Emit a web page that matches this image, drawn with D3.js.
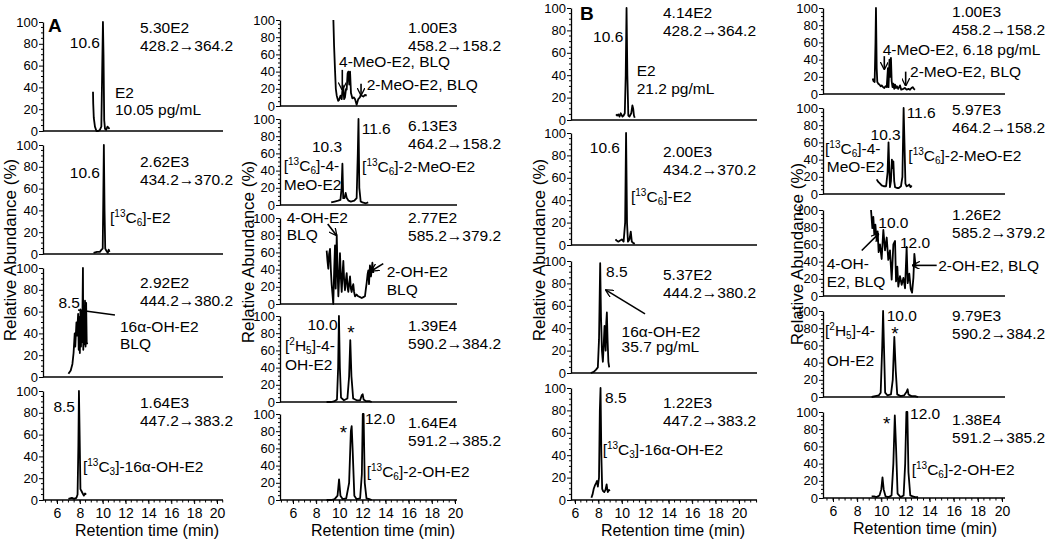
<!DOCTYPE html>
<html lang="en">
<head>
<meta charset="UTF-8">
<title>SRM chromatograms of estrogens</title>
<script src="https://d3js.org/d3.v7.min.js"></script>
<style>
  body { margin: 0; background: #fff; }
  svg text { font-family: "Liberation Sans", Arial, sans-serif; fill: #000; }
</style>
</head>
<body>
<svg width="1050" height="539"></svg>
<script>
// ---- data: [retention time (min), relative abundance (%)] ----
const a1 = [[9.15,36],[9.17,25],[9.22,12],[9.32,4],[9.45,0],[9.6,0],[9.75,1],[9.88,4],[9.96,60],[10.02,100],[10.07,70],[10.13,10],[10.2,2],[10.3,1],[10.42,4],[10.5,3],[10.6,2]];
const a2 = [[9.2,1],[9.5,2],[9.75,2],[9.9,4],[10.0,5],[10.05,50],[10.1,100],[10.16,40],[10.22,5],[10.32,3],[10.45,1],[10.52,4],[10.6,2]];
const a3 = [[7.0,3],[7.2,6],[7.35,12],[7.45,22],[7.55,40],[7.6,28],[7.7,50],[7.75,38],[7.85,58],[7.9,25],[7.95,55],[8.0,22],[8.05,62],[8.1,28],[8.15,60],[8.2,32],[8.27,100],[8.3,25],[8.35,65],[8.4,30],[8.45,70],[8.5,28],[8.55,68],[8.6,32],[8.65,30]];
const a4 = [[7.0,1],[7.3,2],[7.5,1],[7.7,2],[7.8,5],[7.87,50],[7.92,100],[7.98,60],[8.05,10],[8.15,8],[8.25,6],[8.35,4],[8.45,6],[8.55,5]];
const a5 = [[9.49,100],[9.55,70],[9.63,42],[9.7,20],[9.78,12],[9.9,6],[9.98,7],[10.1,12],[10.21,8],[10.3,24],[10.35,21],[10.42,8],[10.49,10],[10.58,20],[10.64,19],[10.72,38],[10.78,40],[10.86,25],[10.93,40],[11.01,15],[11.13,9],[11.25,10],[11.36,8],[11.5,1.5],[11.64,8],[11.78,10],[11.86,13],[11.94,12],[12.08,11],[12.22,13],[12.37,12]];
const a6 = [[9.3,3],[9.6,4],[9.9,5],[10.1,6],[10.2,20],[10.27,48],[10.34,8],[10.45,8],[10.55,14],[10.65,8],[10.8,5],[11.0,4],[11.3,5],[11.5,8],[11.6,60],[11.66,100],[11.73,20],[11.85,4],[12.0,3],[12.3,2],[12.5,3]];
const a7 = [[8.91,62],[8.98,50],[9.05,41],[9.12,58],[9.2,64],[9.27,40],[9.34,23],[9.41,12],[9.48,0],[9.56,40],[9.63,68],[9.69,18],[9.74,50],[9.78,80],[9.85,40],[9.92,9],[10.0,35],[10.06,59],[10.14,30],[10.21,14],[10.28,35],[10.35,50],[10.42,28],[10.49,16],[10.57,28],[10.64,36],[10.71,20],[10.78,14],[10.86,25],[10.93,32],[11.0,18],[11.07,14],[11.14,20],[11.21,23],[11.28,14],[11.36,9],[11.5,11],[11.64,9],[11.8,8],[11.94,7],[12.08,8],[12.22,9],[12.3,18],[12.37,25],[12.45,35],[12.51,39],[12.57,23],[12.65,45],[12.74,32],[12.8,40],[12.86,48],[12.94,36]];
const a8 = [[8.9,0],[9.3,0],[9.6,1],[9.8,3],[9.9,40],[9.97,100],[10.05,40],[10.15,5],[10.4,2],[10.7,4],[10.85,30],[10.95,72],[11.05,30],[11.2,4],[11.5,2],[11.8,2],[11.95,8],[12.02,9],[12.1,3],[12.3,1],[12.6,1],[12.8,0]];
const a9 = [[8.9,0],[9.3,0],[9.6,1],[9.85,5],[9.98,24],[10.1,5],[10.3,1],[10.6,2],[10.85,20],[11.0,80],[11.07,86],[11.15,60],[11.3,5],[11.5,1],[11.8,2],[11.95,30],[12.03,100],[12.1,100],[12.2,20],[12.35,2],[12.6,1],[12.8,0]];
const b1 = [[9.5,5],[9.6,4],[9.7,5],[9.8,3],[9.9,6],[10.05,3],[10.15,4],[10.25,6],[10.33,40],[10.4,100],[10.47,40],[10.55,4],[10.65,3],[10.8,6],[10.9,13],[10.97,10],[11.03,4],[11.1,2]];
const b2 = [[9.45,5],[9.55,4],[9.7,3],[9.85,4],[10.0,5],[10.15,3],[10.28,20],[10.36,100],[10.44,20],[10.52,3],[10.65,5],[10.76,12],[10.85,3],[10.95,2],[11.1,1]];
const b3 = [[7.35,0],[7.6,1],[7.8,3],[7.95,5],[8.05,30],[8.15,98],[8.22,50],[8.3,20],[8.38,10],[8.45,25],[8.52,42],[8.57,30],[8.62,20],[8.67,45],[8.72,54],[8.78,30],[8.85,10],[8.92,5]];
const b4 = [[7.4,2],[7.5,5],[7.6,10],[7.7,13],[7.8,15],[7.88,17],[7.95,12],[8.05,20],[8.12,80],[8.18,100],[8.25,40],[8.32,10],[8.4,8],[8.5,7],[8.6,9],[8.7,14],[8.75,10],[8.8,7],[8.9,9],[8.97,8]];
const b5 = [[9.29,18],[9.35,15],[9.45,14],[9.52,60],[9.56,100],[9.62,30],[9.67,14],[9.75,12],[9.84,11],[9.95,9],[10.03,10],[10.15,8],[10.25,7],[10.35,9],[10.45,8],[10.55,30],[10.6,8],[10.68,40],[10.75,20],[10.8,42],[10.86,15],[10.93,8],[11.0,12],[11.07,6],[11.14,11],[11.22,7],[11.3,9],[11.4,6],[11.55,10],[11.65,5],[11.83,6],[11.95,7],[12.1,5],[12.25,6],[12.38,5],[12.5,7],[12.6,8],[12.7,6],[12.79,5]];
const b6 = [[9.62,17],[9.75,14],[9.9,12],[10.03,10],[10.2,9],[10.4,9],[10.52,25],[10.6,60],[10.66,30],[10.72,8],[10.8,15],[10.88,40],[10.95,30],[11.0,38],[11.07,15],[11.14,8],[11.3,7],[11.45,7],[11.63,9],[11.75,20],[11.85,100],[11.92,60],[12.0,12],[12.1,9],[12.25,10],[12.32,11],[12.42,8],[12.52,10]];
const b7 = [[9.15,100],[9.26,79],[9.34,92],[9.42,72],[9.51,83],[9.62,64],[9.7,75],[9.78,51],[9.89,60],[10.03,43],[10.17,77],[10.31,53],[10.45,68],[10.58,42],[10.72,53],[10.86,19],[11.0,60],[11.14,64],[11.22,17],[11.33,34],[11.41,11],[11.55,23],[11.69,13],[11.83,21],[11.97,9],[12.1,57],[12.19,15],[12.32,26],[12.44,8],[12.55,4],[12.66,21],[12.74,49],[12.85,34]];
const b8 = [[9.2,0],[9.5,1],[9.8,2],[9.95,5],[10.08,60],[10.15,100],[10.22,60],[10.32,5],[10.5,2],[10.8,3],[10.95,20],[11.08,70],[11.2,30],[11.32,3],[11.6,1],[11.9,2],[12.1,6],[12.18,9],[12.25,3],[12.5,1],[12.8,1],[13.05,0]];
const b9 = [[9.2,2],[9.4,2],[9.6,1],[9.85,3],[10.0,10],[10.1,24],[10.2,10],[10.35,2],[10.6,1],[10.85,3],[11.0,40],[11.12,96],[11.22,60],[11.35,5],[11.6,1],[11.85,3],[11.98,40],[12.08,100],[12.16,100],[12.25,30],[12.4,3],[12.6,2],[12.8,1],[13.05,1]];

const traces = [a1, a2, a3, a4, a5, a6, a7, a8, a9, b1, b2, b3, b4, b5, b6, b7, b8, b9];
const intensities = ["5.30E2","2.62E3","2.92E2","1.64E3","1.00E3","6.13E3","2.77E2","1.39E4","1.64E4",
                     "4.14E2","2.00E3","5.37E2","1.22E3","1.00E3","5.97E3","1.26E2","9.79E3","1.38E4"];
const transitions = ["428.2→364.2","434.2→370.2","444.2→380.2","447.2→383.2","458.2→158.2","464.2→158.2","585.2→379.2","590.2→384.2","591.2→385.2",
                     "428.2→364.2","434.2→370.2","444.2→380.2","447.2→383.2","458.2→158.2","464.2→158.2","585.2→379.2","590.2→384.2","591.2→385.2"];
const xTicks = [6, 8, 10, 12, 14, 16, 18, 20];
const yTicks = [0, 20, 40, 60, 80, 100];
const xTitle = "Retention time (min)";
const yTitle = "Relative Abundance (%)";

// ---- layout ----
const cols = [
  {axisX: 43,  x6: 57,  x20: 217,  xEnd: 223,  tops: [22, 145, 268, 391],      h: 109, infoT: 13.26, titleX: 16,  titleCx: 147, titleCy: 250},
  {axisX: 280, x6: 293, x20: 455,  xEnd: 457,  tops: [20, 119, 218, 316, 414], h: 86,  infoT: 15.94, titleX: 254, titleCx: 383, titleCy: 252},
  {axisX: 571, x6: 575, x20: 739,  xEnd: 757,  tops: [8, 133, 261, 388],       h: 112, infoT: 13.51, titleX: 545, titleCx: 673, titleCy: 250},
  {axisX: 823, x6: 833, x20: 1002, xEnd: 1005, tops: [8, 108, 210, 311, 412],  h: 86,  infoT: 15.86, titleX: 803, titleCx: 925, titleCy: 254}
];
// panel -> column, row, baseline (in %) of the intensity label
const panels = [
  [0,0,90],[0,1,80],[0,2,82],[0,3,84],
  [1,0,85],[1,1,86],[1,2,94],[1,3,82],[1,4,84],
  [2,0,91],[2,1,79],[2,2,83],[2,3,82],
  [3,0,90],[3,1,92],[3,2,88],[3,3,88],[3,4,85]
];
// annotations per panel: [t, value, text, anchor, bold]
const notes = [
  [[5.21,91,"A","start",true],[9.76,76,"10.6","end"],[11.07,30,"E2"],[11.07,14.7,"10.05 pg/mL"]],
  [[9.76,69.7,"10.6","end"],[10.64,28.4,"[^13C_6]-E2"]],
  [[8.01,63.3,"8.5","end"],[11.51,41.3,"16α-OH-E2"],[11.51,25.7,"BLQ"]],
  [[7.57,80.7,"8.5","end"],[8.27,25.7,"[^13C_3]-16α-OH-E2"]],
  [[9.98,45,"4-MeO-E2, BLQ"],[12.37,18.5,"2-MeO-E2, BLQ"]],
  [[11.94,82,"11.6"],[10.25,62,"10.3","end"],[5.2,40,"[^13C_6]-4-"],[5.2,17,"MeO-E2"],[11.97,38,"[^13C_6]-2-MeO-E2"]],
  [[5.46,94,"4-OH-E2"],[5.46,75,"BLQ"],[14.1,31,"2-OH-E2"],[14.1,11,"BLQ"]],
  [[9.85,84,"10.0","end"],[11.01,72.7,"*","middle"],[5.31,59.7,"[^2H_5]-4-"],[5.31,37,"OH-E2"]],
  [[10.35,70.5,"*","middle"],[12.22,88,"12.0"],[12.37,27,"[^13C_6]-2-OH-E2"]],
  [[6.43,89,"B","start",true],[10.12,69.5,"10.6","end"],[11.27,39,"E2"],[11.27,23,"21.2 pg/mL"]],
  [[9.84,82,"10.6","end"],[10.78,38,"[^13C_6]-E2"]],
  [[8.65,86,"8.5"],[9.98,31.9,"16α-OH-E2"],[9.98,18.6,"35.7 pg/mL"]],
  [[8.56,86.7,"8.5"],[8.36,39.8,"[^13C_3]-16α-OH-E2"]],
  [[10.12,45.4,"4-MeO-E2, 6.18 pg/mL"],[12.38,20,"2-MeO-E2, BLQ"]],
  [[12.1,88.5,"11.6"],[10.36,63,"10.3","middle"],[5.34,46,"[^13C_6]-4-"],[5.48,25.3,"MeO-E2"],[12.24,38.5,"[^13C_6]-2-MeO-E2"]],
  [[9.75,79,"10.0"],[11.55,56,"12.0"],[5.48,31,"4-OH-"],[5.48,11,"E2, BLQ"],[14.72,29.3,"2-OH-E2, BLQ"]],
  [[10.45,88,"10.0"],[11.14,66,"*","middle"],[5.34,70.7,"[^2H_5]-4-"],[5.48,36.2,"OH-E2"]],
  [[10.45,78.5,"*","middle"],[12.38,92,"12.0"],[12.52,27,"[^13C_6]-2-OH-E2"]]
];
// arrows per panel: [t1, v1, t2, v2, head]
const arrows = [
  [], [], [[11.07,56.9,7.84,61.5,false]], [],
  [[10.26,42,10.26,19,true],[11.88,26,11.88,13,true]], [],
  [[9.0,93,9.75,80,true],[13.8,47,12.8,38.7,true]], [], [],
  [], [], [[11.98,52.8,8.65,74,true]], [],
  [[10.25,44,10.25,29,true],[12.02,26,12.02,10,true]], [],
  [[8.38,52.9,9.75,72,true],[14.59,35.6,12.6,35.6,true]], [], []
];

const svg = d3.select("svg");
svg.append("defs").append("marker")
  .attr("id", "head").attr("viewBox", "0 0 10 10").attr("refX", 9).attr("refY", 5)
  .attr("markerWidth", 8).attr("markerHeight", 8).attr("markerUnits", "userSpaceOnUse")
  .attr("orient", "auto")
  .append("path").attr("d", "M0,0L10,5L0,10").attr("fill", "none")
  .attr("stroke", "#000").attr("stroke-width", 1.6);

// "^13" -> superscript, "_6" -> subscript
function rich(sel, str) {
  const parts = str.split(/(\^\d+|_\d+)/);
  let off = 0;
  parts.forEach(p => {
    if (!p) return;
    let target = 0, txt = p, small = false;
    if (p[0] === "^") { target = -6; txt = p.slice(1); small = true; }
    else if (p[0] === "_") { target = 3; txt = p.slice(1); small = true; }
    const ts = sel.append("tspan").attr("dy", target - off).text(txt);
    if (small) ts.attr("font-size", "10px");
    off = target;
  });
}

panels.forEach((p, i) => {
  const c = cols[p[0]], row = p[1];
  const top = c.tops[row], bottom = top + c.h;
  const last = row === c.tops.length - 1;
  const x = d3.scaleLinear().domain([6, 20]).range([c.x6, c.x20]);
  const y = d3.scaleLinear().domain([0, 100]).range([bottom, top]);
  const g = svg.append("g");

  // y axis with minor ticks
  const ya = g.append("g").attr("transform", `translate(${c.axisX},0)`)
    .call(d3.axisLeft(y).tickValues(yTicks).tickSize(4).tickSizeOuter(0).tickPadding(1));
  ya.select(".domain").attr("stroke-width", 1.3);
  ya.selectAll("text").attr("font-size", "13px");
  ya.selectAll("line.minor").data(d3.range(0, 101, 5).filter(v => v % 20))
    .join("line").attr("class", "minor").attr("x1", -2).attr("x2", 0)
    .attr("y1", d => y(d)).attr("y2", d => y(d)).attr("stroke", "#000");

  // x baseline
  g.append("line").attr("x1", c.axisX).attr("x2", c.xEnd)
    .attr("y1", bottom).attr("y2", bottom).attr("stroke", "#000").attr("stroke-width", 1.5);

  if (last) {
    const xa = g.append("g").attr("transform", `translate(0,${bottom})`)
      .call(d3.axisBottom(x).tickValues(xTicks).tickSize(4).tickPadding(4));
    xa.select(".domain").remove();
    xa.selectAll("text").attr("font-size", "14px");
    const t0 = x.invert(c.axisX), t1 = x.invert(c.xEnd);
    g.selectAll("line.xminor").data(d3.range(Math.ceil(t0 * 2) / 2, t1, 0.5))
      .join("line").attr("class", "xminor").attr("x1", d => x(d)).attr("x2", d => x(d))
      .attr("y1", bottom).attr("y2", bottom + 2.5).attr("stroke", "#000");
    g.append("text").attr("x", c.titleCx).attr("y", bottom + 36)
      .attr("text-anchor", "middle").attr("font-size", "16px").text(xTitle);
  }

  // trace
  g.append("path").datum(traces[i])
    .attr("d", d3.line().x(d => x(d[0])).y(d => y(d[1])))
    .attr("fill", "none").attr("stroke", "#000").attr("stroke-width", 1.8)
    .attr("stroke-linejoin", "round");

  // intensity + transition
  g.append("text").attr("x", x(c.infoT)).attr("y", y(p[2]))
    .attr("font-size", "15.5px").text(intensities[i]);
  g.append("text").attr("x", x(c.infoT)).attr("y", y(p[2]) + 18)
    .attr("font-size", "15.5px").text(transitions[i]);

  notes[i].forEach(n => {
    const t = g.append("text").attr("x", x(n[0])).attr("y", y(n[1]))
      .attr("text-anchor", n[3] || "start")
      .attr("font-size", n[4] ? "19px" : (n[2] === "*" ? "19px" : "15.5px"))
      .attr("font-weight", n[4] ? "bold" : null);
    rich(t, n[2]);
  });

  arrows[i].forEach(a => {
    g.append("line").attr("x1", x(a[0])).attr("y1", y(a[1]))
      .attr("x2", x(a[2])).attr("y2", y(a[3]))
      .attr("stroke", "#000").attr("stroke-width", 1.6)
      .attr("marker-end", a[4] ? "url(#head)" : null);
  });
});

// y titles
cols.forEach(c => {
  svg.append("text").attr("transform", `translate(${c.titleX},${c.titleCy}) rotate(-90)`)
    .attr("text-anchor", "middle").attr("font-size", "17px").text(yTitle);
});
</script>
</body>
</html>
